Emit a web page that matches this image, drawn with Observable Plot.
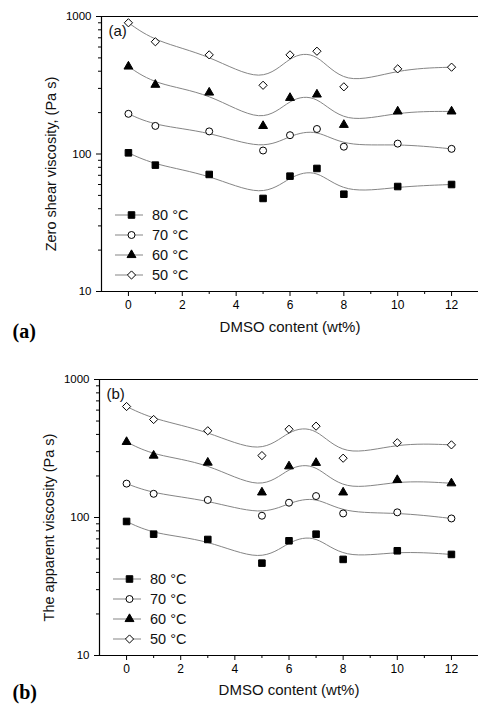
<!DOCTYPE html>
<html><head><meta charset="utf-8">
<script src="https://cdn.jsdelivr.net/npm/d3@7"></script>
<script src="https://cdn.jsdelivr.net/npm/@observablehq/plot@0.6"></script>
<style>body{margin:0;background:#fff} #chart svg{display:block;overflow:hidden}</style>
</head><body><div id="chart"></div>
<script>
const dmso = [0, 1, 3, 5, 6, 7, 8, 10, 12];
const seriesLabels = ["80 °C", "70 °C", "60 °C", "50 °C"];
const seriesSymbols = ["square", "circle", "triangle", "diamond2"];
const seriesFills = ["black", "white", "black", "white"];
const seriesR = [3.7, 3.5, 3.3, 3.7];

// Panel (a): zero shear viscosity (Pa s)
const zero80 = [102, 83, 71, 47.5, 69, 78.5, 51, 58, 60];
const zero70 = [196, 160, 146, 106, 137, 152, 113, 119, 109];
const zero60 = [433, 319, 280, 160, 256, 271, 163, 204, 204];
const zero50 = [900, 655, 526, 316, 526, 559, 308, 416, 428];

// Panel (b): apparent viscosity (Pa s)
const app80 = [93.6, 75.7, 69.3, 46.7, 67.8, 75.7, 49.7, 57.4, 54];
const app70 = [176, 148.5, 134, 103, 128, 143, 107, 109, 98.4];
const app60 = [353, 281, 250, 152, 235, 249, 152, 187, 177];
const app50 = [637, 513, 425, 281, 436, 459, 269, 348, 336];

const xMajorTicks = [0, 2, 4, 6, 8, 10, 12];
const xMinorTicks = [1, 3, 5, 7, 9, 11];
const yMajorTicks = [10, 100, 1000];
const yMinorTicks = [20, 30, 40, 50, 60, 70, 80, 90, 200, 300, 400, 500, 600, 700, 800, 900];
const xDomain = [-1, 13];
const yDomain = [10, 1000];

const FONT = "'Liberation Sans', Arial, Helvetica, sans-serif";
const d3Sym = {square: d3.symbolSquare, circle: d3.symbolCircle, triangle: d3.symbolTriangle, diamond2: d3.symbolDiamond2};

function toRows(seriesArrays) {
  const rows = [];
  seriesArrays.forEach((arr, i) => arr.forEach((v, j) => rows.push({x: dmso[j], y: v, s: i})));
  return rows;
}

function legendMark(leftOff, topOff) {
  return (index, scales, values, dims) => {
    const g = d3.create("svg:g");
    seriesLabels.forEach((lab, i) => {
      const x0 = dims.marginLeft + leftOff;
      const y = dims.marginTop + topOff + i * 20;
      g.append("line").attr("x1", x0).attr("x2", x0 + 28).attr("y1", y).attr("y2", y)
        .attr("stroke", "#858585").attr("stroke-width", 1);
      g.append("path").attr("transform", `translate(${x0 + 16.5},${y})`)
        .attr("d", d3.symbol(d3Sym[seriesSymbols[i]], Math.PI * seriesR[i] * seriesR[i])())
        .attr("fill", seriesFills[i]).attr("stroke", "black").attr("stroke-width", 1);
      g.append("text").attr("x", x0 + 37).attr("y", y).attr("dy", "0.36em")
        .style("font-size", "14.5px").style("font-family", FONT).style("text-anchor", "start")
        .attr("fill", "#111").text(lab);
    });
    return g.node();
  };
}

function panel({series, height, marginTop, marginBottom, marginLeft, yLabel, tag, bigTag, yLabelDy, xTitleDy, bigTagDy, legendTop}) {
  const rows = toRows(series);
  const marks = [
    Plot.ruleY(yDomain, {stroke: "black", strokeWidth: 1.2}),
    Plot.ruleX([xDomain[0]], {stroke: "black", strokeWidth: 1.2}),
    Plot.axisY(yMajorTicks, {tickSize: 5, tickPadding: 5, fontSize: 11.5, tickFormat: d => String(d), label: null, stroke: "black"}),
    Plot.axisY(yMinorTicks, {tickSize: 3, tickFormat: () => "", label: null, stroke: "black"}),
    Plot.axisX(xMajorTicks, {tickSize: 5, tickPadding: 4, fontSize: 12, tickFormat: d => String(d), label: null, stroke: "black"}),
    Plot.axisX(xMinorTicks, {tickSize: 3, tickFormat: () => "", label: null, stroke: "black"}),
  ];
  series.forEach((arr, i) => {
    const data = rows.filter(r => r.s === i);
    marks.push(Plot.line(data, {x: "x", y: "y", curve: "basis", stroke: "#858585", strokeWidth: 1}));
  });
  series.forEach((arr, i) => {
    const data = rows.filter(r => r.s === i);
    marks.push(Plot.dot(data, {x: "x", y: "y", symbol: () => seriesSymbols[i], r: seriesR[i], fill: seriesFills[i], stroke: "black", strokeWidth: 1}));
  });
  marks.push(legendMark(14, legendTop));
  marks.push(Plot.text([tag], {frameAnchor: "top-left", dx: 7, dy: 15, text: d => d, textAnchor: "start", lineAnchor: "middle", fontSize: 15, fill: "#111"}));
  marks.push(Plot.text(["DMSO content (wt%)"], {frameAnchor: "bottom", dy: xTitleDy, text: d => d, textAnchor: "middle", lineAnchor: "middle", fontSize: 15, fill: "#111"}));
  marks.push(Plot.text([yLabel], {frameAnchor: "left", dx: -50, dy: yLabelDy, rotate: -90, text: d => d, textAnchor: "middle", lineAnchor: "middle", fontSize: 14.5, fill: "#111"}));
  marks.push(Plot.text([bigTag], {frameAnchor: "bottom-left", dx: 12 - marginLeft, dy: bigTagDy, text: d => d, textAnchor: "start", lineAnchor: "middle", fontSize: 20, fontWeight: "bold", fontFamily: "'Liberation Serif', 'Times New Roman', serif", fill: "black"}));
  return Plot.plot({
    width: 478, height, marginTop, marginBottom, marginLeft, marginRight: 0,
    style: {fontFamily: FONT, background: "white", color: "black"},
    x: {type: "linear", domain: xDomain},
    y: {type: "log", domain: yDomain},
    marks
  });
}

const chart = document.getElementById("chart");
chart.append(panel({
  series: [zero80, zero70, zero60, zero50], height: 350, marginTop: 16, marginBottom: 59, marginLeft: 101,
  yLabel: "Zero shear viscosity, (Pa s)", tag: "(a)", bigTag: "(a)", yLabelDy: 10, xTitleDy: 36, bigTagDy: 40, legendTop: 199
}));
chart.append(panel({
  series: [app80, app70, app60, app50], height: 355, marginTop: 29, marginBottom: 50, marginLeft: 99,
  yLabel: "The apparent viscosity (Pa s)", tag: "(b)", bigTag: "(b)", yLabelDy: 10, xTitleDy: 35, bigTagDy: 37, legendTop: 200
}));
</script></body></html>
